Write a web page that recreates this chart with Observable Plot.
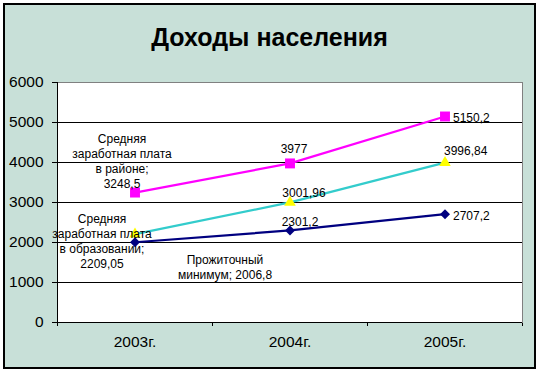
<!DOCTYPE html>
<html><head><meta charset="utf-8">
<script src="https://cdn.jsdelivr.net/npm/d3@7"></script>
<script src="https://cdn.jsdelivr.net/npm/@observablehq/plot@0.6"></script>
<style>
html,body{margin:0;padding:0;background:#fff;}
#wrap{position:relative;width:540px;height:371px;overflow:hidden;}
#box{position:absolute;left:3px;top:3px;width:533px;height:366px;box-sizing:border-box;border:2px solid #000;background:#c8e0d8;}
#title{position:absolute;left:3px;width:533px;top:22px;text-align:center;font:bold 25px "Liberation Sans",Arial,sans-serif;line-height:30px;color:#000;}
#chart{position:absolute;left:0;top:0;}
</style></head><body>
<div id="wrap"><div id="box"></div><div id="title">Доходы населения</div><div id="chart"></div></div>
<script>
const categories = ["2003г.", "2004г.", "2005г."];
const subsistenceMinimum = [2006.8, 2301.2, 2707.2];
const educationWage = [2209.05, 3001.96, 3996.84];
const districtWage = [3248.5, 3977, 5150.2];
const yTicks = [0, 1000, 2000, 3000, 4000, 5000, 6000];
const districtName = "Средняя\nзаработная плата\nв районе";
const educationName = "Средняя\nзаработная плата\nв образовании";
const minimumName = "Прожиточный\nминимум";

const font = "'Liberation Sans', Arial, sans-serif";
const fmt = v => String(v).replace(".", ",");
const rows = (vals) => vals.map((v, i) => ({i, cat: categories[i], v}));

const series = [
  {key: "district", vals: districtWage, name: districtName, sep: ";\n", color: "#ff00ff", markFill: "#ff00ff", symbol: "square", r: 5.6,
   layout: [{dx: -13, dy: -32, a: "middle"}, {dx: 4, dy: -15, a: "middle"}, {dx: 8, dy: 1, a: "start"}]},
  {key: "education", vals: educationWage, name: educationName, sep: ";\n", color: "#33cccc", markFill: "#ffff00", symbol: "triangle", r: 4.3,
   layout: [{dx: -33, dy: 6.5, a: "middle"}, {dx: 14, dy: -10.5, a: "middle"}, {dx: -1, dy: -12, a: "start"}]},
  {key: "minimum", vals: subsistenceMinimum, name: minimumName, sep: "; ", color: "#000080", markFill: "#000080", symbol: "diamond2", r: 4.5,
   layout: [{dx: 90, dy: 24.5, a: "middle"}, {dx: 10, dy: -9, a: "middle"}, {dx: 8, dy: 1, a: "start"}]}
];

const X = d => d.i + 0.5;
const marks = [
  Plot.frame({fill: "white", stroke: "#808080"}),
  Plot.ruleY(yTicks.filter(t => t > 0 && t < 6000), {stroke: "black", strokeWidth: 1}),
  Plot.ruleY([0], {stroke: "black"}),
  Plot.ruleX([0], {stroke: "black"})
];
for (const s of series) {
  marks.push(Plot.line(rows(s.vals), {x: X, y: "v", stroke: s.color, strokeWidth: 2.2}));
}
for (const s of series) {
  marks.push(Plot.dot(rows(s.vals), {x: X, y: "v", symbol: () => s.symbol, r: s.r, fill: s.markFill, stroke: "none"}));
}
for (const s of series) {
  rows(s.vals).forEach((d, i) => {
    const L = s.layout[i];
    const text = i === 0 ? s.name + s.sep + fmt(d.v) : fmt(d.v);
    marks.push(Plot.text([d], {x: X, y: "v", text: () => text, dx: L.dx, dy: L.dy, textAnchor: L.a,
      lineAnchor: "middle", lineHeight: 1.25, fontSize: 12, fill: "black", fontFamily: font}));
  });
}
marks.push(Plot.text(rows(categories.map(() => 0)), {x: X, text: d => d.cat, frameAnchor: "bottom", dy: 20,
  lineAnchor: "middle", fontSize: 15.5, fill: "black", fontFamily: font}));

const chart = Plot.plot({
  width: 540, height: 371,
  marginLeft: 57, marginRight: 18, marginTop: 82, marginBottom: 49,
  style: {background: "transparent", fontFamily: font, fontSize: "15.5px", color: "black", overflow: "visible"},
  x: {domain: [0, 3], ticks: [0, 1, 2, 3], tickSize: 4, tickFormat: () => "", label: null},
  y: {domain: [0, 6000], ticks: yTicks, tickSize: 5, tickPadding: 9, tickFormat: d3.format("d"), label: null},
  symbol: {type: "identity"},
  marks
});
document.getElementById("chart").appendChild(chart);
</script>
</body></html>
